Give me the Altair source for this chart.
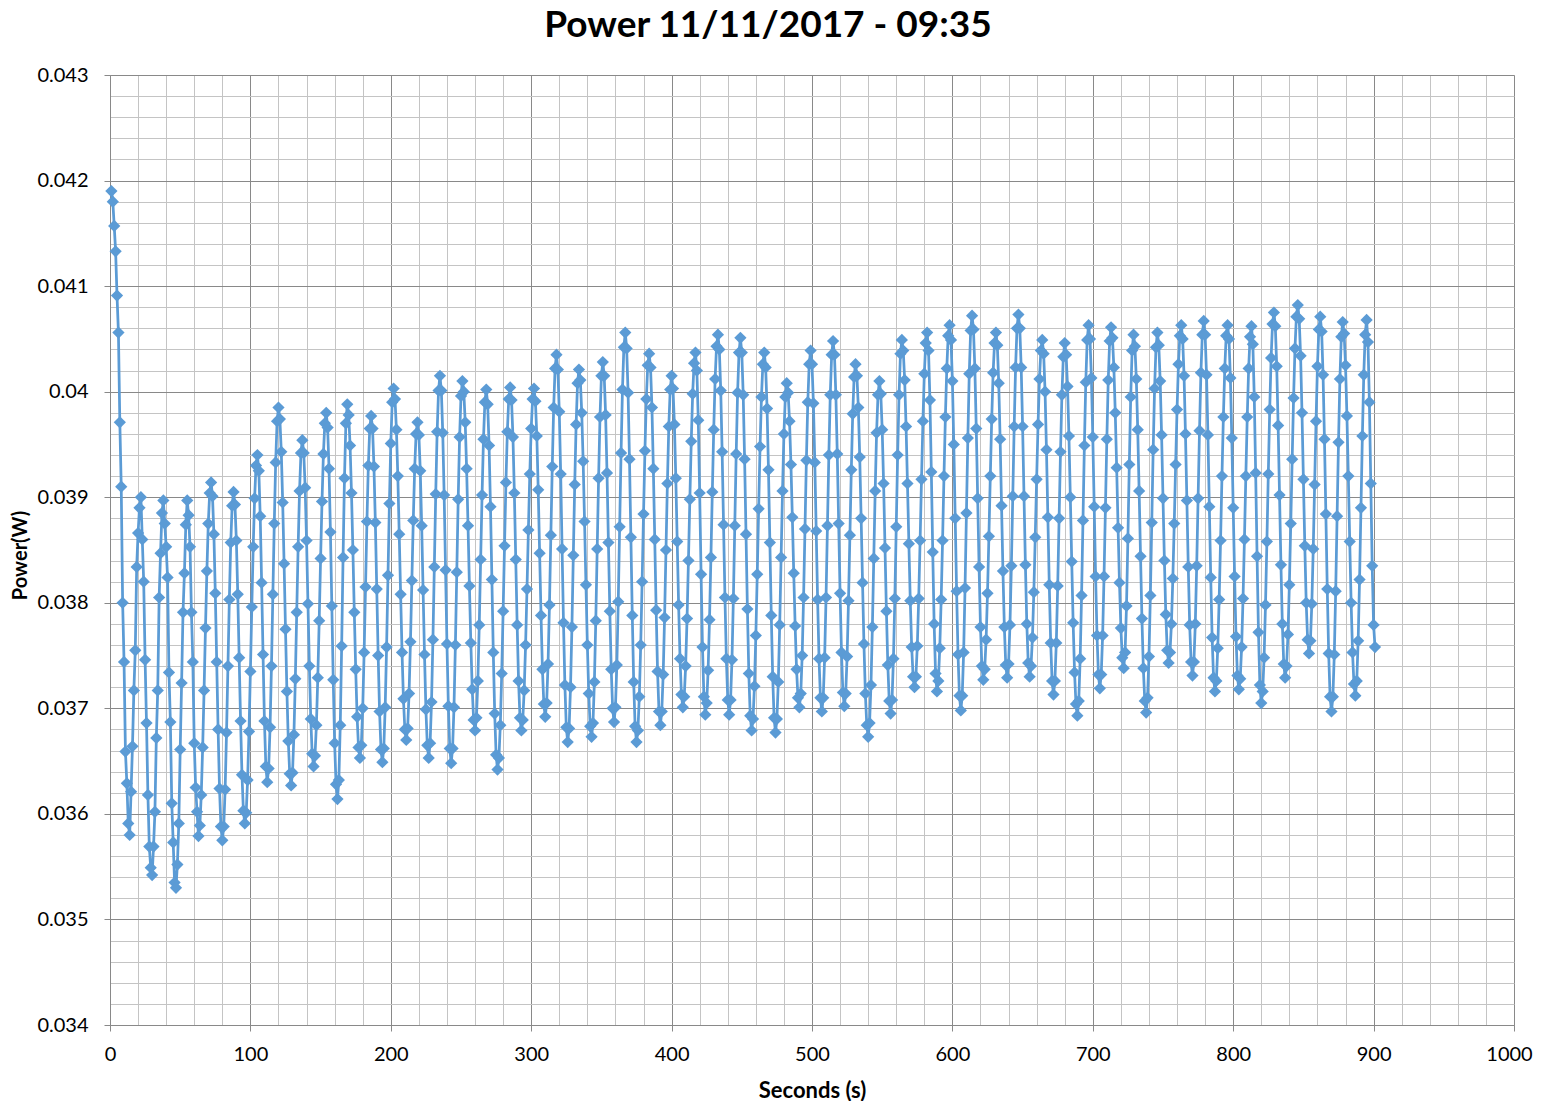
import altair as alt
import pandas as pd

# Power readings in units of 1e-5 W, one per second
power_1e5 = [
    4190, 4180, 4157, 4133, 4091, 4056, 3971, 3910, 3800, 3744, 3659, 3629, 3591, 3580,
    3621, 3664, 3717, 3755, 3834, 3866, 3890, 3900,
    3860, 3820, 3746, 3686, 3618, 3569, 3549, 3542,
    3569, 3602, 3672, 3717, 3805, 3847, 3885, 3897,
    3875, 3853, 3824, 3734, 3687, 3610, 3573, 3535, 3530,
    3552, 3591, 3661, 3724, 3791, 3828, 3874, 3897,
    3883, 3853, 3791, 3744, 3667, 3625, 3602, 3579,
    3589, 3618, 3663, 3717, 3776, 3830, 3875, 3904, 3914,
    3901, 3865, 3809, 3744, 3680, 3624, 3588, 3575,
    3588, 3623, 3677, 3740, 3803, 3857, 3892, 3905,
    3893, 3859, 3808, 3748, 3688, 3637, 3603, 3591,
    3601, 3632, 3678, 3735, 3796, 3853, 3899, 3930, 3940,
    3925, 3882, 3819, 3751, 3688, 3645, 3630,
    3643, 3682, 3740, 3808, 3875, 3933, 3972, 3985,
    3974, 3943, 3895, 3837, 3775, 3716, 3669, 3638, 3627,
    3639, 3675, 3728, 3791, 3853, 3906, 3942, 3954,
    3942, 3909, 3859, 3799, 3740, 3690, 3657, 3645,
    3655, 3684, 3729, 3783, 3842, 3896, 3941, 3970, 3980,
    3966, 3927, 3867, 3797, 3727, 3667, 3628, 3614,
    3632, 3684, 3759, 3843, 3918, 3970, 3988,
    3978, 3949, 3904, 3850, 3791, 3737, 3692, 3663, 3653,
    3665, 3700, 3753, 3815, 3877, 3930, 3965, 3977,
    3965, 3929, 3876, 3813, 3750, 3697, 3661, 3649,
    3662, 3701, 3758, 3826, 3894, 3951, 3990, 4003,
    3993, 3964, 3920, 3865, 3808, 3753, 3709, 3680, 3670,
    3681, 3714, 3763, 3821, 3878, 3927, 3960, 3971,
    3959, 3925, 3873, 3812, 3751, 3699, 3665, 3653,
    3667, 3706, 3765, 3834, 3903, 3962, 4001, 4015,
    4001, 3961, 3902, 3831, 3761, 3702, 3662, 3648,
    3662, 3701, 3760, 3829, 3898, 3957, 3996, 4010,
    4000, 3971, 3927, 3873, 3816, 3762, 3718, 3689, 3679,
    3691, 3726, 3779, 3841, 3902, 3955, 3990, 4002,
    3988, 3949, 3891, 3822, 3753, 3695, 3656, 3642,
    3653, 3684, 3733, 3792, 3854, 3914, 3962, 3993, 4004,
    3992, 3957, 3904, 3841, 3779, 3726, 3691, 3679,
    3689, 3717, 3760, 3813, 3869, 3922, 3965, 3993, 4003,
    3991, 3958, 3907, 3847, 3788, 3737, 3704, 3692,
    3705, 3742, 3798, 3864, 3929, 3985, 4022, 4035,
    4021, 3981, 3922, 3851, 3781, 3722, 3682, 3668,
    3681, 3720, 3777, 3845, 3912, 3969, 4008, 4021,
    4011, 3980, 3934, 3877, 3817, 3760, 3714, 3683, 3673,
    3686, 3725, 3783, 3851, 3918, 3976, 4015, 4028,
    4015, 3978, 3923, 3857, 3792, 3737, 3700, 3687,
    3701, 3741, 3801, 3872, 3942, 4002, 4042, 4056,
    4041, 3999, 3936, 3862, 3788, 3725, 3683, 3668,
    3679, 3711, 3760, 3820, 3884, 3944, 3993, 4025, 4036,
    4023, 3985, 3927, 3860, 3793, 3735, 3697, 3684,
    3697, 3732, 3786, 3850, 3913, 3967, 4002, 4015,
    4003, 3969, 3918, 3858, 3798, 3747, 3713, 3701,
    3711, 3740, 3785, 3840, 3898, 3953, 3998, 4027, 4037,
    4020, 3973, 3904, 3827, 3758, 3711, 3694,
    3705, 3736, 3784, 3843, 3905, 3964, 4012, 4043, 4054,
    4040, 4001, 3943, 3874, 3805, 3747, 3708, 3694,
    3708, 3746, 3804, 3873, 3941, 3999, 4037, 4051,
    4037, 3997, 3936, 3865, 3794, 3733, 3693, 3679,
    3690, 3721, 3769, 3827, 3889, 3948, 3995, 4026, 4037,
    4023, 3984, 3926, 3857, 3788, 3730, 3691, 3677,
    3690, 3725, 3779, 3843, 3906, 3960, 3995, 4008,
    3999, 3972, 3931, 3881, 3828, 3778, 3737, 3710, 3701,
    3714, 3750, 3805, 3870, 3935, 3990, 4026, 4039,
    4026, 3989, 3933, 3868, 3803, 3747, 3710, 3697,
    3710, 3748, 3805, 3873, 3940, 3997, 4035, 4048,
    4035, 3997, 3941, 3875, 3809, 3753, 3715, 3702,
    3714, 3749, 3802, 3864, 3926, 3979, 4014, 4026,
    4015, 3985, 3938, 3880, 3819, 3761, 3714, 3684, 3673,
    3686, 3722, 3777, 3842, 3906, 3961, 3997, 4010,
    3998, 3964, 3913, 3852, 3792, 3741, 3707, 3695,
    3708, 3747, 3804, 3872, 3940, 3997, 4036, 4049,
    4039, 4011, 3967, 3913, 3856, 3802, 3758, 3730, 3720,
    3730, 3759, 3804, 3859, 3917, 3972, 4017, 4046, 4056,
    4039, 3992, 3924, 3848, 3780, 3733, 3716,
    3726, 3757, 3803, 3859, 3920, 3976, 4022, 4053, 4063,
    4049, 4010, 3950, 3880, 3811, 3751, 3712, 3698,
    3712, 3753, 3814, 3885, 3956, 4017, 4058, 4072,
    4059, 4022, 3965, 3899, 3834, 3777, 3740, 3727,
    3737, 3765, 3809, 3863, 3920, 3974, 4018, 4046, 4056,
    4044, 4008, 3955, 3892, 3830, 3777, 3741, 3729,
    3742, 3779, 3835, 3901, 3967, 4023, 4060, 4073,
    4060, 4023, 3967, 3901, 3836, 3780, 3743, 3730,
    3740, 3767, 3810, 3862, 3917, 3969, 4012, 4039, 4049,
    4036, 4000, 3945, 3881, 3817, 3762, 3726, 3713,
    3726, 3762, 3816, 3880, 3943, 3997, 4033, 4046,
    4035, 4005, 3958, 3900, 3839, 3781, 3734, 3704, 3693,
    3707, 3747, 3807, 3878, 3949, 4009, 4049, 4063,
    4050, 4013, 3957, 3891, 3825, 3769, 3732, 3719,
    3732, 3769, 3825, 3890, 3955, 4011, 4048, 4061,
    4051, 4023, 3980, 3928, 3871, 3819, 3776, 3748, 3738,
    3753, 3797, 3861, 3931, 3995, 4039, 4054,
    4043, 4012, 3964, 3906, 3844, 3785, 3738, 3707, 3696,
    3710, 3749, 3807, 3876, 3945, 4003, 4042, 4056,
    4044, 4010, 3959, 3899, 3840, 3789, 3755, 3743,
    3753, 3780, 3823, 3875, 3931, 3983, 4026, 4053, 4063,
    4050, 4015, 3960, 3897, 3834, 3779, 3744, 3731,
    3744, 3780, 3835, 3899, 3963, 4018, 4054, 4067,
    4054, 4016, 3959, 3891, 3824, 3767, 3729, 3716,
    3726, 3757, 3803, 3859, 3920, 3976, 4022, 4053, 4063,
    4050, 4013, 3956, 3890, 3825, 3768, 3731, 3718,
    3728, 3758, 3804, 3860, 3920, 3976, 4022, 4052, 4062,
    4045, 3995, 3923, 3844, 3772, 3722, 3705,
    3716, 3748, 3798, 3858, 3922, 3983, 4032, 4064, 4075,
    4062, 4024, 3968, 3902, 3836, 3780, 3742, 3729,
    3740, 3770, 3817, 3875, 3936, 3994, 4041, 4071, 4082,
    4069, 4034, 3980, 3917, 3854, 3800, 3765, 3752,
    3764, 3799, 3851, 3912, 3972, 4024, 4059, 4071,
    4057, 4016, 3955, 3884, 3813, 3752, 3711, 3697,
    3711, 3751, 3811, 3882, 3952, 4012, 4052, 4066,
    4055, 4025, 3977, 3920, 3858, 3800, 3753, 3723, 3712,
    3726, 3764, 3822, 3890, 3958, 4016, 4054, 4068,
    4047, 3990, 3913, 3835, 3779, 3758,
]

seconds = list(range(1, len(power_1e5) + 1))
power_w = [v / 100000 for v in power_1e5]

x_ticks = list(range(0, 1001, 20))
y_ticks = [round(0.034 + i * 0.0002, 4) for i in range(46)]

df = pd.DataFrame({"Seconds": seconds, "Power": power_w})

MAJOR = "#898989"
MINOR = "#c4c4c4"
BLUE = "#5B9BD5"
FONT = "Lato"

x_major = "datum.value % 100 === 0"
y_major = "abs(datum.value * 1000 - round(datum.value * 1000)) < 1e-6"

x_axis = alt.Axis(
    values=x_ticks,
    format="d",
    title="Seconds (s)",
    titleFont=FONT, titleFontSize=22, titleFontWeight="bold", titleColor="#000000",
    titleBaseline="alphabetic", titleY=72, titleX=702,
    labelFont=FONT, labelFontSize=20, labelColor="#000000",
    labelExpr=f"{x_major} ? datum.label : ''",
    labelOffset={"condition": {"test": "datum.value === 1000", "value": -5}, "value": 0},
    labelOverlap=False, labelFlush=False,
    labelPadding=13, tickSize=6, tickWidth=1,
    tickColor={"condition": {"test": x_major, "value": MAJOR}, "value": "transparent"},
    gridColor={"condition": {"test": x_major, "value": MAJOR}, "value": MINOR},
    gridWidth=1,
    domainColor=MAJOR, domainWidth=1,
)

y_axis = alt.Axis(
    values=y_ticks,
    format=".3~f",
    title="Power(W)",
    titleFont=FONT, titleFontSize=20, titleFontWeight="bold", titleColor="#000000",
    titleBaseline="alphabetic", titleX=-84, titleY=480, titleAngle=270,
    labelFont=FONT, labelFontSize=20, labelColor="#000000",
    labelExpr=f"{y_major} ? datum.label : ''",
    labelOverlap=False, labelFlush=False,
    labelPadding=16, tickSize=6, tickWidth=1,
    tickColor={"condition": {"test": y_major, "value": MAJOR}, "value": "transparent"},
    gridColor={"condition": {"test": y_major, "value": MAJOR}, "value": MINOR},
    gridWidth=1,
    domainColor=MAJOR, domainWidth=1,
)

chart = (
    alt.Chart(df)
    .mark_line(
        color=BLUE,
        strokeWidth=2.75,
        point=alt.OverlayMarkDef(shape="diamond", size=150, filled=True, color=BLUE, opacity=1),
    )
    .encode(
        x=alt.X("Seconds:Q", scale=alt.Scale(domain=[0, 1000], nice=False), axis=x_axis),
        y=alt.Y("Power:Q", scale=alt.Scale(domain=[0.034, 0.043], nice=False, zero=False), axis=y_axis),
    )
    .properties(
        width=1404,
        height=950,
        title=alt.TitleParams(
            "Power 11/11/2017 - 09:35",
            font=FONT, fontSize=37, fontWeight="bold", color="#000000",
            anchor="middle", dx=-44, offset=20,
        ),
        autosize=alt.AutoSizeParams(type="none"),
        padding={"left": 102, "top": 67, "right": 19, "bottom": 76},
    )
    .configure_view(strokeWidth=0)
    .configure(background="white")
)

chart.save("out.html", embed_options={"renderer": "svg", "actions": False})
